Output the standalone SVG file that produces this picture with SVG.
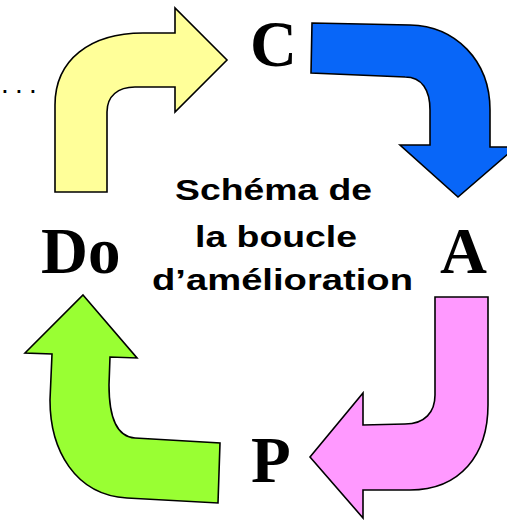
<svg xmlns="http://www.w3.org/2000/svg" width="507" height="520" viewBox="0 0 507 520">
<style>
.arr{stroke:#000;stroke-width:1.6;stroke-linejoin:miter}
.lbl{font-family:"Liberation Serif","Times New Roman",serif;font-weight:bold;font-size:65px;fill:#000}
.ctr{font-family:"Liberation Sans",Arial,sans-serif;font-weight:bold;font-size:30px;fill:#000}
.dots{font-family:"Liberation Sans",Arial,sans-serif;font-size:28px;fill:#000;letter-spacing:6.2px}
</style>
<rect width="507" height="520" fill="#fff"/>
<g id="connectors">
<path id="arrow-do-c" class="arr" fill="#FFFF99" d="M55,192 L55,105 C55,60 90,33 143,33 L175,33 L175,8 L227,60 L175,112 L175,87 L135,87 C118,87 107,96 107,112 L107,192 Z"/>
<path id="arrow-c-a" class="arr" fill="#0866F8" d="M312,23 L410,25 C455,26 490,60 490,110 L490,147 L516,147 L458,197 L400,145 L430,145 L430,110 C430,90 422,77 405,77 L311,73 Z"/>
<path id="arrow-a-p" class="arr" fill="#FF99FF" d="M435,297 L488,297 L488,405 C488,455 460,490 410,490 L363,490 L363,518 L310,457 L363,393 L363,425 L405,424 C425,424 435,412 435,395 Z"/>
<path id="arrow-p-do" class="arr" fill="#99FF33" d="M83,295 L137,358 L110,357 L109,385 C109,420 118,437 135,438 L220,443 L218,503 L127,498 C75,495 50,450 50,400 L52,354 L25,353 Z"/>
</g>
<g id="node-c"><text class="lbl" x="250" y="66">C</text></g>
<g id="node-a"><text class="lbl" x="440" y="273">A</text></g>
<g id="node-p"><text class="lbl" x="251" y="482">P</text></g>
<g id="node-do"><text class="lbl" x="41" y="273">Do</text></g>
<g id="dots"><text class="dots" x="1" y="93">...</text></g>
<g id="title">
<text class="ctr" x="175" y="200" textLength="197" lengthAdjust="spacingAndGlyphs">Schéma de</text>
<text class="ctr" x="195" y="247" textLength="162" lengthAdjust="spacingAndGlyphs">la boucle</text>
<text class="ctr" x="152" y="290" textLength="261" lengthAdjust="spacingAndGlyphs">d’amélioration</text>
</g>
</svg>
